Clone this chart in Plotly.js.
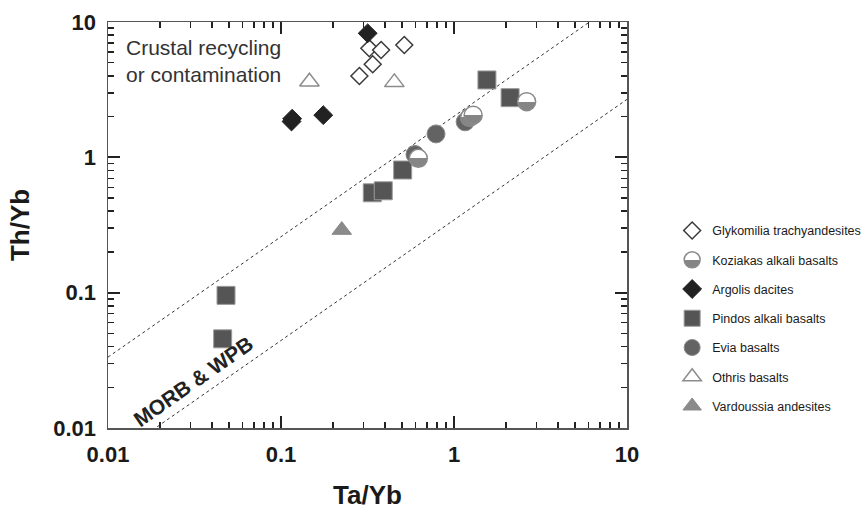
<!DOCTYPE html>
<html>
<head>
<meta charset="utf-8">
<script src="https://cdn.plot.ly/plotly-3.0.1.min.js"></script>
<style>html,body{margin:0;padding:0;background:#fff;}#chart{width:865px;height:510px;}</style>
</head>
<body>
<div id="chart"></div>
<script>
// ---- data ----
var glyX = [0.324, 0.379, 0.516, 0.339, 0.284];
var glyY = [6.39, 6.21, 6.76, 4.87, 3.99];
var kozX = [2.63, 1.23, 1.29, 0.622];
var kozY = [2.58, 1.97, 2.05, 0.983];
var argX = [0.317, 0.115, 0.116, 0.1755];
var argY = [8.25, 1.84, 1.93, 2.05];
var pinX = [1.55, 2.11, 0.505, 0.337, 0.390, 0.0481, 0.046];
var pinY = [3.73, 2.76, 0.806, 0.547, 0.566, 0.0955, 0.0456];
var eviX = [0.787, 1.16, 0.595];
var eviY = [1.49, 1.83, 1.05];
var othX = [0.146, 0.452];
var othY = [3.62, 3.58];
var varX = [0.2245];
var varY = [0.290];
// MORB-WPB array boundaries (line end points)
var boundX = [0.01, 10];
var upperY = [0.0334, 15.6];
var lowerY = [0.0057, 2.68];

var seriesNames = ['Glykomilia trachyandesites','Koziakas alkali basalts','Argolis dacites',
  'Pindos alkali basalts','Evia basalts','Othris basalts','Vardoussia andesites'];

var FONT = 'Liberation Sans, Arial, sans-serif';
var dashLine = {color:'#333', width:1, dash:'3px,3px'};

var traces = [
  {x:boundX, y:upperY, mode:'lines', line:dashLine, showlegend:false, hoverinfo:'skip'},
  {x:boundX, y:lowerY, mode:'lines', line:dashLine, showlegend:false, hoverinfo:'skip'},
  {x:pinX, y:pinY, mode:'markers', name:seriesNames[3], legendrank:4, legendgroup:'p',
    marker:{symbol:'square', size:18, color:'#555555', line:{color:'#9a9a9a', width:1}}},
  {x:eviX, y:eviY, mode:'markers', name:seriesNames[4], legendrank:5, legendgroup:'e',
    marker:{symbol:'circle', size:18, color:'#636363', line:{color:'#8a8a8a', width:1}}},
  {x:kozX, y:kozY, mode:'markers', name:seriesNames[1], legendrank:2, legendgroup:'k',
    marker:{symbol:'circle', size:18, color:'#ffffff', gradient:{type:'vertical', color:'#858585'},
      line:{color:'#8a8a8a', width:1.5}}},
  {x:othX, y:othY, mode:'markers', name:seriesNames[5], legendrank:6, legendgroup:'o',
    marker:{symbol:'triangle-up', size:17, color:'#ffffff', line:{color:'#8c8c8c', width:1.5}}},
  {x:varX, y:varY, mode:'markers', name:seriesNames[6], legendrank:7, legendgroup:'v',
    marker:{symbol:'triangle-up', size:17, color:'#8a8a8a', line:{color:'#8a8a8a', width:1}}},
  {x:glyX, y:glyY, mode:'markers', name:seriesNames[0], legendrank:1, legendgroup:'g',
    marker:{symbol:'diamond', size:13, color:'#ffffff', line:{color:'#3a3a3a', width:1.5}}},
  {x:argX, y:argY, mode:'markers', name:seriesNames[2], legendrank:3, legendgroup:'a',
    marker:{symbol:'diamond', size:14.5, color:'#222222', line:{color:'#222222', width:1}}}
];

function axis(titleText, standoff) {
  return {
    type:'log', range:[-2,1], dtick:1,
    showline:true, linecolor:'#555', linewidth:1.5, mirror:'ticks',
    ticks:'inside', ticklen:12, tickwidth:2, tickcolor:'#222',
    minor:{ticks:'inside', ticklen:6, tickwidth:1.5, tickcolor:'#222', dtick:'D1'},
    showgrid:false, zeroline:false,
    tickfont:{family:FONT, size:22, weight:'bold', color:'#1a1a1a'},
    ticklabelstandoff:6,
    title:{text:titleText, standoff:standoff, font:{family:FONT, size:26, weight:'bold', color:'#1a1a1a'}}
  };
}

var layout = {
  width:865, height:510,
  margin:{l:108, r:238, t:22, b:82, autoexpand:false},
  paper_bgcolor:'#fff', plot_bgcolor:'#fff',
  xaxis: Object.assign(axis('Ta/Yb', 22), {automargin:false}),
  yaxis: Object.assign(axis('Th/Yb', 16), {automargin:false, range:[-2,1]}),
  showlegend:true,
  legend:{x:1.087, xanchor:'left', y:0.27, yanchor:'middle', traceorder:'grouped',
    tracegroupgap:10, font:{family:FONT, size:12.5, color:'#1a1a1a'}, bgcolor:'rgba(0,0,0,0)'},
  annotations:[
    {xref:'paper', yref:'paper', x:0.03, y:0.97, xanchor:'left', yanchor:'top', align:'left',
      showarrow:false, text:'Crustal recycling<br>or contamination',
      font:{family:FONT, size:21, color:'#333'}},
    {xref:'x', yref:'y', x:-1.509, y:-1.653, showarrow:false, textangle:-35,
      text:'MORB &amp; WPB', font:{family:FONT, size:21, weight:'bold', color:'#222'}}
  ]
};

var gd = document.getElementById('chart');
Plotly.newPlot(gd, traces, layout, {displayModeBar:false, staticPlot:true}).then(function(){
  // make the Koziakas circles half-filled (sharp split at the middle)
  gd.querySelectorAll('linearGradient').forEach(function(g){
    var stops = g.querySelectorAll('stop');
    if (stops.length < 2) return;
    var s0 = stops[0], s1 = stops[stops.length-1];
    var a = s0.cloneNode(); a.setAttribute('offset','50%');
    var b = s1.cloneNode(); b.setAttribute('offset','50%');
    g.insertBefore(a, s1); g.insertBefore(b, s1);
  });
});
</script>
</body>
</html>
